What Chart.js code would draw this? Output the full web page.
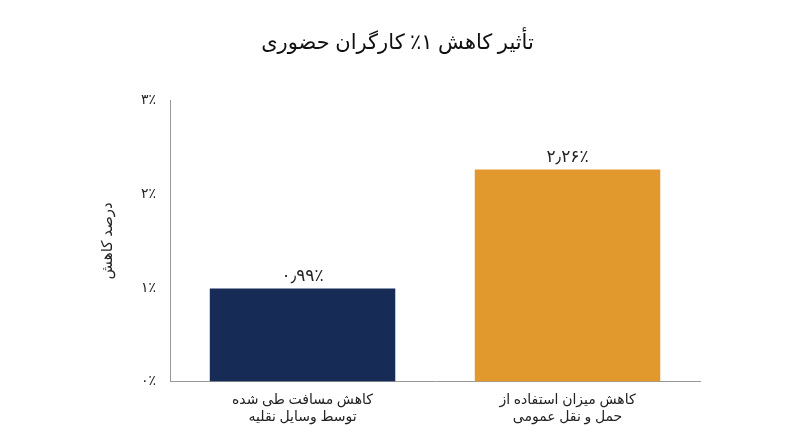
<!DOCTYPE html>
<html><head><meta charset="utf-8">
<script src="https://cdn.jsdelivr.net/npm/chart.js@4"></script>
<style>html,body{margin:0;background:#fff}#w{width:800px;height:447px}</style>
</head><body><div id="w"><canvas id="c"></canvas></div>
<script>
const titleText = "تأثیر کاهش ۱٪ کارگران حضوری";
const categories = [["کاهش مسافت طی شده","توسط وسایل نقلیه"],["کاهش میزان استفاده از","حمل و نقل عمومی"]];
const values = [0.99, 2.26];
const valueLabels = ["۰٫۹۹٪","۲٫۲۶٪"];
const tickLabels = ["۰٪","۱٪","۲٪","۳٪"];
const yTitle = "درصد کاهش";
const colors = ["#172b57","#e1992e"];
const F = "'Noto Sans', 'DejaVu Sans', sans-serif";
const labelPlugin = {id:'vl',afterDatasetsDraw(ch){const ctx=ch.ctx;const m=ch.getDatasetMeta(0);ctx.save();ctx.font="17px "+F;ctx.fillStyle="#222";ctx.textAlign="center";ctx.textBaseline="bottom";m.data.forEach((b,i)=>ctx.fillText(valueLabels[i],b.x,b.y-4));ctx.restore();}};
new Chart(document.getElementById('c'),{type:'bar',
data:{labels:categories,datasets:[{data:values,backgroundColor:colors,barPercentage:0.7,categoryPercentage:1}]},
options:{responsive:true,maintainAspectRatio:false,animation:false,
layout:{padding:{left:95,right:100,top:20,bottom:12}},
plugins:{legend:{display:false},tooltip:{enabled:false},
title:{display:true,text:titleText,font:{family:F,size:21,weight:'normal'},color:'#111',padding:{top:10,bottom:45}}},
scales:{x:{grid:{display:false,drawTicks:false},border:{color:'#999'},ticks:{color:'#222',font:{family:F,size:14},padding:10}},
y:{min:0,max:3,grid:{display:false,drawTicks:true,tickLength:8,color:'#999'},border:{color:'#999'},
ticks:{stepSize:1,color:'#222',font:{family:F,size:14},padding:6,callback:(v)=>tickLabels[v]},
title:{display:true,text:yTitle,font:{family:F,size:15},color:'#222',padding:{bottom:18}}}}},
plugins:[labelPlugin]});
</script></body></html>
